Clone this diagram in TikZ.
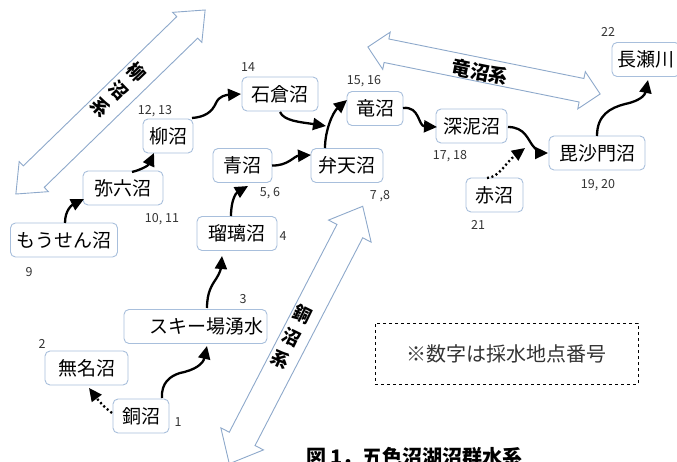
\documentclass[tikz,border=0pt]{standalone}
\usepackage{fontspec}
\setmainfont{Noto Sans CJK JP}
\usetikzlibrary{arrows.meta,calc}
\definecolor{boxline}{HTML}{A8BFDC}
\definecolor{sysline}{HTML}{8EA9CB}
\definecolor{numtext}{HTML}{333333}
\tikzset{
 lake/.style={draw=boxline, line width=0.9pt, rounded corners=5pt, fill=white, minimum height=34pt, inner sep=0pt, font=\fontsize{19}{21}\selectfont},
 num/.style={font=\fontsize{12.5}{14}\selectfont, text=numtext, inner sep=0pt},
 flow/.style={line width=2.3pt, -{Triangle[length=13pt,width=12pt]}},
 seep/.style={flow, dash pattern=on 2pt off 2.6pt},
 sysarrow/.style={draw=sysline, line width=0.9pt, fill=white},
 syslabel/.style={font=\bfseries\fontsize{18}{25}\selectfont, align=center, inner sep=0pt},
}
\newcommand{\hollowdbl}[7]{%
 \begin{scope}[shift={(#1,#2)}, rotate=#3]
 \draw[sysarrow] (-#4,0) -- ({-#4+#7},#6) -- ({-#4+#7},#5) -- ({#4-#7},#5) -- ({#4-#7},#6) -- (#4,0) -- ({#4-#7},-#6) -- ({#4-#7},-#5) -- ({-#4+#7},-#5) -- ({-#4+#7},-#6) -- cycle;
 \end{scope}}
\begin{document}
\begin{tikzpicture}[x=1pt,y=-1pt]
\useasboundingbox (0,0) rectangle (677,462);
% system arrows
\hollowdbl{110.5}{102}{44.2}{132}{15}{21}{25}
\hollowdbl{484}{70.5}{-11.45}{118.5}{12}{19}{19}
\hollowdbl{296}{335}{62.6}{145}{14.5}{24}{28}
\node[syslabel, rotate=-46] (sysyanagi) at (119,90) {柳\\沼\\系};
\node[syslabel, rotate=-11.5, font=\bfseries\fontsize{19}{22}\selectfont] (systatsu) at (480,72) {竜沼系};
\node[syslabel, rotate=-26] (sysdou) at (292,337) {銅\\沼\\系};
% lakes
\node[lake, minimum width=107pt] (moosen) at (64,240) {もうせん沼};
\node[lake, minimum width=80pt] (yaroku) at (123,188) {弥六沼};
\node[lake, minimum width=50pt] (yanagi) at (168,136) {柳沼};
\node[lake, minimum width=76pt] (ishikura) at (280,94) {石倉沼};
\node[lake, minimum width=59pt] (ao) at (242.5,165.5) {青沼};
\node[lake, minimum width=72pt] (benten) at (347,165.5) {弁天沼};
\node[lake, minimum width=56pt] (tatsu) at (375,108.5) {竜沼};
\node[lake, minimum width=71pt] (miderou) at (471.5,126) {深泥沼};
\node[lake, minimum width=57pt] (aka) at (494.5,195) {赤沼};
\node[lake, minimum width=96pt] (bishamon) at (597,153) {毘沙門沼};
\node[lake, minimum width=68pt] (nagase) at (646,59.5) {長瀬川};
\node[lake, minimum width=80pt] (ruri) at (237,233.5) {瑠璃沼};
\node[lake, minimum width=143pt, text width=136pt, align=right] (ski) at (195.5,326.5) {スキー場湧水};
\node[lake, minimum width=83pt] (mumei) at (86.5,368) {無名沼};
\node[lake, minimum width=56pt] (dou) at (141,416) {銅沼};
% numbers
\node[num] (n9) at (29,272) {9};
\node[num] (n1011) at (162,219) {10, 11};
\node[num] (n1213) at (155,111) {12, 13};
\node[num] (n14) at (248,67) {14};
\node[num] (n56) at (270,193) {5, 6};
\node[num] (n78) at (380,196) {7 ,8};
\node[num] (n1516) at (364,81) {15, 16};
\node[num] (n1718) at (450,156) {17, 18};
\node[num] (n21) at (478,225) {21};
\node[num] (n1920) at (598,185) {19, 20};
\node[num] (n22) at (608,32) {22};
\node[num] (n4) at (283,236) {4};
\node[num] (n3) at (243,299) {3};
\node[num] (n2) at (42,344) {2};
\node[num] (n1) at (178,422) {1};
% flows
\draw[flow] ($(moosen)+(1,-17)$) .. controls (65,210) and (72,205) .. ($(yaroku)+(-39,11)$);
\draw[flow] ($(yaroku)+(9,-16)$) .. controls (140,170) and (148,166) .. ($(yanagi)+(-14,17)$);
\draw[flow] ($(yanagi)+(24,-18)$) .. controls (205,117) and (212,112) .. (216,103) .. controls (219,96) and (226,95) .. ($(ishikura)+(-39,0)$);
\draw[flow] ($(ishikura)+(0,18)$) .. controls (284,121) and (300,122) .. ($(tatsu)+(-49,17.5)$);
\draw[flow] ($(ao)+(29.5,0)$) .. controls (288,166) and (294,156) .. ($(benten)+(-36,-10.5)$);
\draw[flow] ($(benten)+(-22,-17.5)$) .. controls (325,130) and (333,112) .. ($(tatsu)+(-28,-8.5)$);
\draw[flow] ($(ruri)+(-6,-17.5)$) .. controls (231,200) and (236,193) .. ($(ao)+(5.5,20.5)$);
\draw[flow] ($(ski)+(11.5,-18.5)$) .. controls (207,292) and (212,285) .. (216,279) .. controls (220,273) and (221,268) .. ($(ruri)+(-15,22.5)$);
\draw[flow] ($(dou)+(21,-18)$) .. controls (161,383) and (170,376) .. (180,373) .. controls (195,370) and (203,364) .. ($(ski)+(11.5,19.5)$);
\draw[seep] ($(dou)+(-29,-3)$) .. controls (105,408) and (98,400) .. ($(mumei)+(2.5,20)$);
\draw[flow] ($(tatsu)+(28,-0.5)$) .. controls (420,106) and (418,126) .. ($(miderou)+(-34.5,1)$);
\draw[flow] ($(miderou)+(36.5,1)$) .. controls (525,127) and (528,140) .. (533,146) .. controls (537,151) and (541,153) .. ($(bishamon)+(-49,0)$);
\draw[seep] ($(aka)+(-7.5,-17)$) .. controls (500,177) and (505,163) .. ($(bishamon)+(-72,-5)$);
\draw[flow] ($(bishamon)+(0,-17)$) .. controls (597,115) and (610,108) .. (625,104) .. controls (640,101) and (645,95) .. ($(nagase)+(2,20.5)$);
% note and caption
\node[draw, dashed, line width=1pt, minimum width=263pt, minimum height=61pt, font=\fontsize{20}{22}\selectfont, text=numtext] (note) at (506.5,353.5) {※数字は採水地点番号};
\node[anchor=west, inner sep=0pt, font=\bfseries\fontsize{20}{22}\selectfont] (caption) at (306,457) {図 1．五色沼湖沼群水系};
\end{tikzpicture}
\end{document}
